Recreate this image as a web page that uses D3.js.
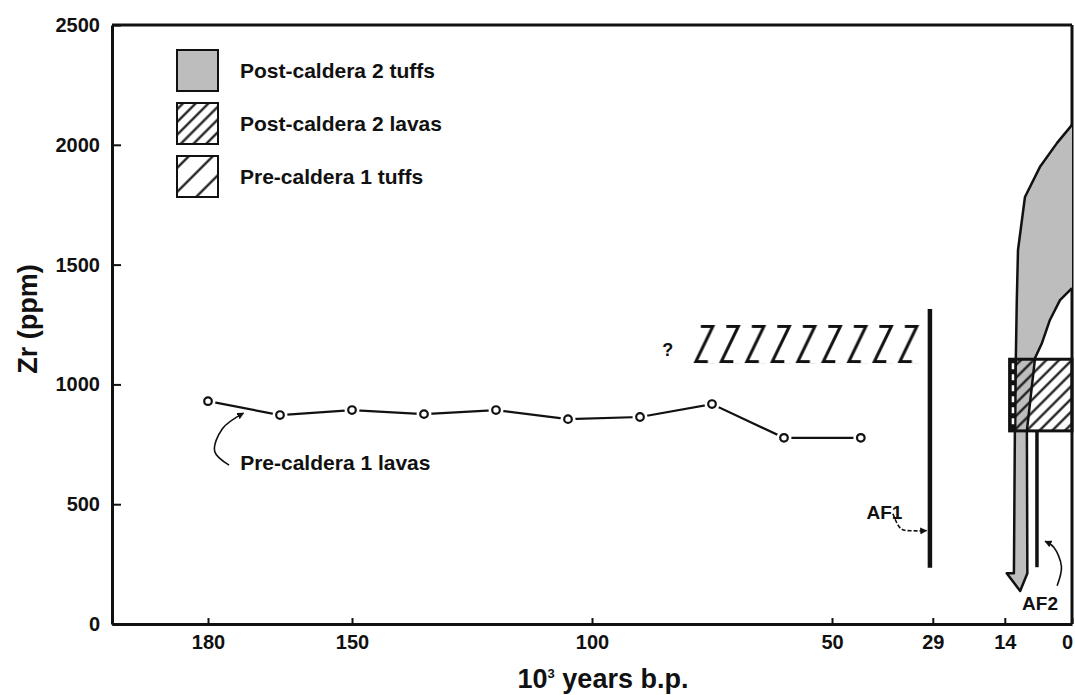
<!DOCTYPE html>
<html>
<head>
<meta charset="utf-8">
<script src="https://cdn.jsdelivr.net/npm/d3@7"></script>
<style>
  body { margin: 0; background: #fff; }
  text { font-family: Arial, "Liberation Sans", sans-serif; font-weight: bold; fill: #111; }
</style>
</head>
<body>
<svg id="chart" width="1075" height="695"></svg>
<script>
// Pre-caldera 1 lavas (age in 10^3 yr b.p., Zr ppm)
var lavaAges = [180, 165, 150, 135, 120, 105, 90, 75, 60, 44];
var lavaZr   = [930, 872, 893, 876, 893, 855, 864, 918, 777, 777];

var xTicks = [180, 150, 100, 50, 29, 14, 0];
var yTicks = [0, 500, 1000, 1500, 2000, 2500];

var legendLabels = ["Post-caldera 2 tuffs", "Post-caldera 2 lavas", "Pre-caldera 1 tuffs"];

// ranges (age from..to, Zr low..high)
var preTuffAges = [79.2, 31.2];
var preTuffZr   = [1089, 1248];
var postLavaAges = [13, 0];
var postLavaZr   = [806, 1105];

// AF1 / AF2 vertical bars
var af1Age = 29.6, af1Zr = [235, 1315];
var af2Age = 7.3,  af2Zr = [237, 806];

// grey post-caldera 2 tuff envelope, ending in the down arrow
var tuffAges = [0, 3.1, 6.7, 9.8, 11.25, 11.5, 11.7, 11.9, 12.1, 13.6, 10.8, 9.3, 9.4, 7.7, 6.25, 4.6, 2.5, 0];
var tuffZr   = [2083, 2008, 1907, 1782, 1561, 1352, 1110, 806, 212, 212, 138, 212, 806, 1110, 1173, 1269, 1352, 1402];

var svg = d3.select("#chart");

var x = d3.scaleLinear().domain([200, 0]).range([112, 1072]);
var y = d3.scaleLinear().domain([0, 2500]).range([624, 25]);

var defs = svg.append("defs");

function hatch(id, gap, width) {
  var p = defs.append("pattern")
      .attr("id", id)
      .attr("patternUnits", "userSpaceOnUse")
      .attr("width", gap).attr("height", gap)
      .attr("patternTransform", "rotate(45)");
  p.append("line")
      .attr("x1", gap / 2).attr("y1", 0)
      .attr("x2", gap / 2).attr("y2", gap)
      .attr("stroke", "#111").attr("stroke-width", width);
}
hatch("dense", 9, 2.2);
hatch("sparse", 17, 2.2);

// slanted "Z" pattern of the pre-caldera tuff band
var tx0 = x(preTuffAges[0]), tx1 = x(preTuffAges[1]);
var ty0 = y(preTuffZr[1]), ty1 = y(preTuffZr[0]);
var th = ty1 - ty0;
var zp = defs.append("pattern")
    .attr("id", "zeds")
    .attr("patternUnits", "userSpaceOnUse")
    .attr("x", tx0).attr("y", ty0)
    .attr("width", 25.5).attr("height", th);
zp.append("path")
    .attr("d", "M9,1.5 H21 L4," + (th - 1.5) + " H16")
    .attr("fill", "none").attr("stroke", "#111")
    .attr("stroke-width", 3).attr("stroke-linejoin", "miter");

// axes
var yAxis = d3.axisLeft(y).tickValues(yTicks).tickFormat(d3.format("d"))
    .tickSizeInner(-9).tickSizeOuter(0).tickPadding(12);
var xAxis = d3.axisBottom(x).tickValues(xTicks).tickFormat(d3.format("d"))
    .tickSizeInner(-6).tickSizeOuter(0).tickPadding(11);

var gy = svg.append("g").attr("transform", "translate(" + x(200) + ",0)").call(yAxis);
var gx = svg.append("g").attr("transform", "translate(0," + y(0) + ")").call(xAxis);

[gx, gy].forEach(function(g) {
  g.select(".domain").attr("stroke", "#111").attr("stroke-width", 3);
  g.selectAll(".tick line").attr("stroke", "#111").attr("stroke-width", 2);
  g.selectAll(".tick text").attr("font-size", 20).attr("fill", "#111")
      .style("font-family", "Arial, 'Liberation Sans', sans-serif").style("font-weight", "bold");
});
// the "0" label sits on the right frame, keep it inside the page
gx.selectAll(".tick text").filter(function(d) { return d === 0; }).attr("dx", -5);

// frame top and right
svg.append("line")
    .attr("x1", x(200)).attr("x2", x(0))
    .attr("y1", y(2500)).attr("y2", y(2500))
    .attr("stroke", "#111").attr("stroke-width", 3);
svg.append("line")
    .attr("x1", x(0)).attr("x2", x(0))
    .attr("y1", y(2500)).attr("y2", y(0))
    .attr("stroke", "#111").attr("stroke-width", 3);

// axis titles
svg.append("text")
    .attr("transform", "translate(37,319) rotate(-90)")
    .attr("text-anchor", "middle")
    .attr("font-size", 27)
    .text("Zr (ppm)");

var xt = svg.append("text")
    .attr("x", 603).attr("y", 688)
    .attr("text-anchor", "middle")
    .attr("font-size", 27);
xt.append("tspan").text("10");
xt.append("tspan").attr("dy", -10).attr("font-size", 13).text("3");
xt.append("tspan").attr("dy", 10).text(" years b.p.");

// legend
var legFills = ["#bdbdbd", "url(#dense)", "url(#sparse)"];
var leg = svg.append("g").selectAll("g")
    .data(legendLabels)
  .enter().append("g")
    .attr("transform", function(d, i) { return "translate(177," + (50 + i * 53) + ")"; });
leg.append("rect")
    .attr("width", 41).attr("height", 41)
    .attr("fill", "#fff");
leg.append("rect")
    .attr("width", 41).attr("height", 41)
    .attr("fill", function(d, i) { return legFills[i]; })
    .attr("stroke", "#111").attr("stroke-width", 2);
leg.append("text")
    .attr("x", 63).attr("y", 21).attr("dy", "0.35em")
    .attr("font-size", 21)
    .text(function(d) { return d; });

// pre-caldera 1 tuffs band
svg.append("rect")
    .attr("x", tx0).attr("y", ty0)
    .attr("width", tx1 - tx0).attr("height", th)
    .attr("fill", "url(#zeds)");
svg.append("text")
    .attr("x", x(84.2)).attr("y", y(1144)).attr("dy", "0.35em")
    .attr("text-anchor", "middle")
    .attr("font-size", 18)
    .text("?");

// lava series
var pts = lavaAges.map(function(a, i) { return [a, lavaZr[i]]; });
svg.append("path")
    .datum(pts)
    .attr("fill", "none").attr("stroke", "#111").attr("stroke-width", 2.2)
    .attr("d", d3.line().x(function(d) { return x(d[0]); }).y(function(d) { return y(d[1]); }));
svg.selectAll("circle.halo").data(pts).enter().append("circle")
    .attr("class", "halo")
    .attr("cx", function(d) { return x(d[0]); }).attr("cy", function(d) { return y(d[1]); })
    .attr("r", 7.5).attr("fill", "#fff");
svg.selectAll("circle.pt").data(pts).enter().append("circle")
    .attr("class", "pt")
    .attr("cx", function(d) { return x(d[0]); }).attr("cy", function(d) { return y(d[1]); })
    .attr("r", 3.8).attr("fill", "#fff").attr("stroke", "#111").attr("stroke-width", 2.2);

// arrow heads
defs.append("marker")
    .attr("id", "head")
    .attr("viewBox", "0 0 10 10").attr("refX", 9).attr("refY", 5)
    .attr("markerWidth", 7).attr("markerHeight", 7)
    .attr("markerUnits", "userSpaceOnUse")
    .attr("orient", "auto")
  .append("path").attr("d", "M0,0 L10,5 L0,10 Z").attr("fill", "#111");

var curve = d3.line()
    .x(function(d) { return x(d[0]); }).y(function(d) { return y(d[1]); })
    .curve(d3.curveCatmullRom);

function note(points, dashed) {
  svg.append("path")
      .datum(points)
      .attr("d", curve)
      .attr("fill", "none").attr("stroke", "#111").attr("stroke-width", 1.6)
      .attr("stroke-dasharray", dashed ? "4,2" : null)
      .attr("marker-end", "url(#head)");
}

note([[175.6, 663], [178.6, 720], [177, 815], [172.6, 880]], false);
svg.append("text")
    .attr("x", x(173.3)).attr("y", y(643))
    .attr("font-size", 21)
    .text("Pre-caldera 1 lavas");

// AF1
svg.append("line")
    .attr("x1", x(af1Age)).attr("x2", x(af1Age))
    .attr("y1", y(af1Zr[0])).attr("y2", y(af1Zr[1]))
    .attr("stroke", "#111").attr("stroke-width", 4.5);
note([[37.3, 460], [35.6, 397], [33, 389], [30.3, 390]], true);
svg.append("text")
    .attr("x", x(42.8)).attr("y", y(440))
    .attr("font-size", 19)
    .text("AF1");

// post-caldera 2 tuffs (grey) with arrow
var tuffPts = tuffAges.map(function(a, i) { return [a, tuffZr[i]]; });
svg.append("path")
    .datum(tuffPts)
    .attr("d", d3.line().x(function(d) { return x(d[0]); }).y(function(d) { return y(d[1]); }))
    .attr("fill", "#bdbdbd").attr("stroke", "#111").attr("stroke-width", 2.5)
    .attr("stroke-linejoin", "round");

// post-caldera 2 lavas box
var bx0 = x(postLavaAges[0]), bx1 = x(postLavaAges[1]);
var by0 = y(postLavaZr[1]), by1 = y(postLavaZr[0]);
svg.append("rect")
    .attr("x", bx0).attr("y", by0)
    .attr("width", bx1 - bx0).attr("height", by1 - by0)
    .attr("fill", "url(#dense)")
    .attr("stroke", "#111").attr("stroke-width", 3);
svg.append("rect")
    .attr("x", bx0).attr("y", by0)
    .attr("width", x(11.6) - bx0).attr("height", by1 - by0)
    .attr("fill", "#111");
svg.append("line")
    .attr("x1", x(12.3)).attr("x2", x(12.3))
    .attr("y1", by0 + 4).attr("y2", by1 - 2)
    .attr("stroke", "#fff").attr("stroke-width", 2.5)
    .attr("stroke-dasharray", "6,5");

// AF2
svg.append("line")
    .attr("x1", x(af2Age)).attr("x2", x(af2Age))
    .attr("y1", y(af2Zr[0])).attr("y2", y(af2Zr[1]))
    .attr("stroke", "#111").attr("stroke-width", 3.5);
note([[3.1, 160], [2.2, 240], [3.8, 320], [5.6, 345]], false);
svg.append("text")
    .attr("x", x(10.4)).attr("y", y(58))
    .attr("font-size", 19)
    .text("AF2");
</script>
</body>
</html>
